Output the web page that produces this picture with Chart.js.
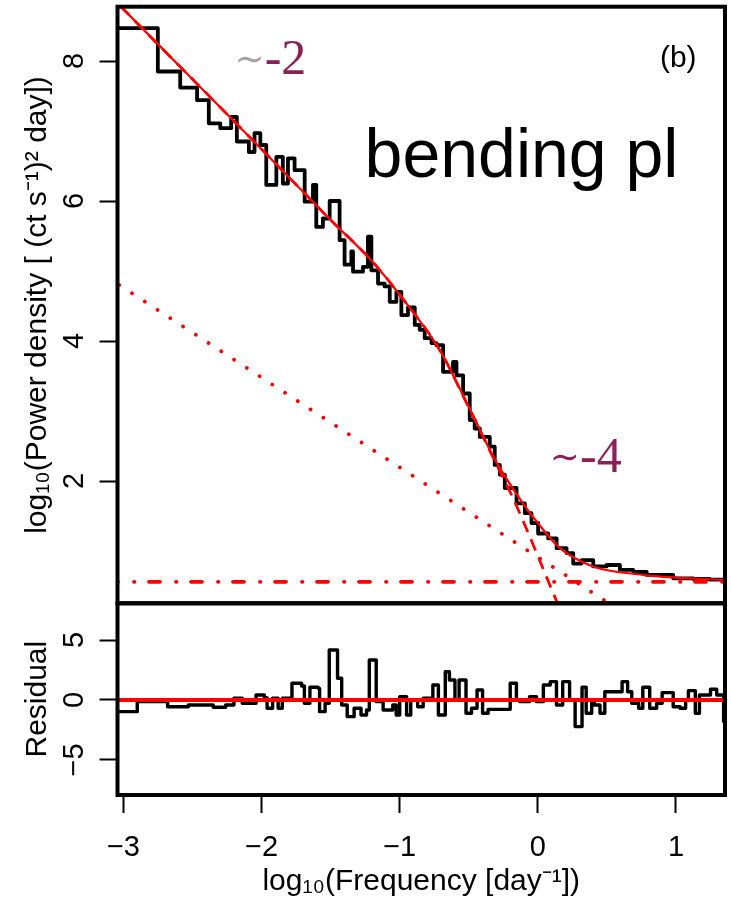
<!DOCTYPE html>
<html>
<head>
<meta charset="utf-8">
<script src="https://cdn.jsdelivr.net/npm/chart.js@4.4.1/dist/chart.umd.min.js"></script>
<style>
  html, body { margin: 0; padding: 0; background: #fff; }
  #wrap { position: relative; width: 731px; height: 900px; }
  #wrap canvas { position: absolute; left: 0; top: 0; }
</style>
</head>
<body>
<div id="wrap">
  <canvas id="spec" width="731" height="900"></canvas>
  <canvas id="resid" width="731" height="900"></canvas>
</div>
<script>
// binned power spectrum, step levels (left edge of each step, log10 power)
const specX = [-3.048, -2.751, -2.589, -2.467, -2.382, -2.299, -2.220, -2.179, -2.092, -2.051,
  -2.009, -1.966, -1.893, -1.846, -1.809, -1.761, -1.688, -1.628, -1.604, -1.556,
  -1.507, -1.435, -1.399, -1.350, -1.338, -1.266, -1.230, -1.205, -1.157, -1.109,
  -1.072, -1.024, -0.988, -0.940, -0.891, -0.855, -0.819, -0.770, -0.734, -0.686,
  -0.614, -0.589, -0.541, -0.493, -0.457, -0.420, -0.348, -0.312, -0.275, -0.239,
  -0.154, -0.094, -0.046, 0.002, 0.075, 0.136, 0.208, 0.256, 0.317, 0.401,
  0.498, 0.594, 0.691, 0.788, 0.980, 1.125, 1.246];
const specY = [8.47, 7.85, 7.62, 7.44, 7.11, 7.04, 7.20, 6.85, 6.70, 6.97,
  6.80, 6.23, 6.63, 6.25, 6.61, 6.44, 5.99, 6.23, 5.63, 5.75,
  6.00, 5.44, 5.09, 5.28, 4.99, 5.06, 5.49, 5.01, 4.82, 4.78,
  4.56, 4.70, 4.37, 4.48, 4.23, 4.16, 4.04, 3.97, 3.94, 3.56,
  3.70, 3.51, 3.25, 2.87, 2.75, 2.63, 2.49, 2.23, 2.09, 1.90,
  1.68, 1.54, 1.40, 1.25, 1.18, 1.04, 0.97, 0.82, 0.87, 0.78,
  0.80, 0.73, 0.70, 0.66, 0.61, 0.60, 0.59];

// total model (solid red)
const modelX = [-3.02, -2.5, -2.0, -1.5, -1.2, -1.0, -0.71, -0.5, -0.3, -0.1, 0.0, 0.16, 0.4, 0.76, 1.0, 1.36];
const modelY = [8.78, 7.74, 6.74, 5.73, 5.14, 4.66, 3.87, 3.06, 2.27, 1.66, 1.40, 1.04, 0.78, 0.66, 0.62, 0.586];

// bending power law component (dashed red)
const bendX = [-3.02, -2.5, -2.0, -1.5, -1.2, -1.0, -0.71, -0.5, -0.3, -0.19, -0.1, 0.0, 0.09, 0.16];
const bendY = [8.78, 7.74, 6.74, 5.73, 5.14, 4.66, 3.87, 3.05, 2.24, 1.80, 1.40, 0.93, 0.50, 0.17];

// dotted red component
const dotX = [-3.03, 0.52];
const dotY = [4.80, 0.245];

// constant (white noise) level, dot-dash red
const constX = [-3.043, 1.355];
const constY = [0.56, 0.56];

// residuals, step levels
const resX = [-3.043, -2.90, -2.68, -2.53, -2.35, -2.26, -2.20, -2.14, -2.04, -1.98,
  -1.96, -1.92, -1.88, -1.85, -1.78, -1.71, -1.69, -1.65, -1.59, -1.58,
  -1.54, -1.51, -1.45, -1.42, -1.38, -1.33, -1.28, -1.24, -1.22, -1.17,
  -1.12, -1.05, -1.025, -1.0, -0.95, -0.92, -0.87, -0.83, -0.76, -0.72,
  -0.67, -0.64, -0.60, -0.57, -0.52, -0.48, -0.44, -0.40, -0.36, -0.20,
  -0.155, -0.13, -0.06, -0.01, 0.04, 0.09, 0.135, 0.18, 0.23, 0.27,
  0.32, 0.35, 0.39, 0.41, 0.45, 0.485, 0.61, 0.65, 0.68, 0.73,
  0.76, 0.81, 0.86, 0.90, 0.98, 1.03, 1.07, 1.09, 1.14, 1.17,
  1.25, 1.295, 1.345];
const resY = [-0.97, -0.14, -0.56, -0.42, -0.61, -0.42, 0.14, -0.28, 0.42, 0.19,
  -0.69, 0.14, -0.69, 0.14, 1.39, 1.17, -0.28, 1.06, 0.97, -0.97,
  -0.28, 4.17, 1.81, -0.42, -1.39, -0.69, -1.25, -0.83, 3.33, -0.14,
  -0.83, -0.42, -1.25, 0.28, -1.25, 0, -0.56, 0.14, 1.25, -1.25,
  2.36, 1.67, 0, 1.67, -1.11, -0.69, 0.83, -1.11, -0.78, 1.39,
  0, -0.14, 0.28, -0.14, 1.25, 1.53, -0.42, 1.53, 0, -2.22,
  1.06, -1.11, 0, -0.42, -1.11, 0.69, 1.53, 0.69, -0.28, -0.69,
  1.06, -0.69, -0.28, 0.61, -0.56, -0.69, 0, 0.78, -1.11, 0.42,
  0.89, 0.42, -1.8];
const zeroX = [-3.043, 1.355];
const zeroY = [0, 0];

// axes
const X_MIN = -3.043, X_MAX = 1.355;
const xTicks = [-3, -2, -1, 0, 1];
const specTicks = [2, 4, 6, 8];
const resTicks = [-5, 0, 5];

const SANS = '"Liberation Sans", Arial, Helvetica, sans-serif';
const SERIF = '"Liberation Serif", "Times New Roman", serif';
const RED = '#ff0000';
const MAROON = '#8e1f55';

function minusLabel(v) {
  return v < 0 ? '\u2212' + Math.abs(v) : String(v);
}
function pts(xs, ys) {
  return xs.map((x, i) => ({ x: x, y: ys[i] }));
}
function stepPts(xs, ys, end) {
  let p = pts(xs, ys);
  p.push({ x: end, y: ys[ys.length - 1] });
  return p;
}

// box round the plot region, like R's box()
const framePlugin = {
  id: 'frame',
  afterDraw(chart) {
    const { ctx, chartArea: a } = chart;
    ctx.save();
    ctx.strokeStyle = '#000';
    ctx.lineWidth = 4;
    ctx.strokeRect(a.left, a.top, a.right - a.left, a.bottom - a.top);
    ctx.restore();
  }
};

// text written into the top panel; a part may carry its own font and a small lift
const TILDE_FONT = '36px "DejaVu Serif", serif';
const notes = [
  { x: -2.196, y: 7.82, font: '50px ' + SERIF,
    parts: [['\u223C', '#a3a3a3', TILDE_FONT, -3], ['-2', MAROON]] },
  { x: 0.087, y: 2.13, font: '50px ' + SERIF,
    parts: [['\u223C', MAROON, TILDE_FONT, -3], ['-4', MAROON]] },
  { x: -1.254, y: 6.35, font: '68px ' + SANS, parts: [['bending pl', '#000']] },
  { x: 0.884, y: 7.92, font: '30px ' + SANS, parts: [['(b)', '#000']] }
];
const notesPlugin = {
  id: 'notes',
  afterDraw(chart) {
    const ctx = chart.ctx;
    const xs = chart.scales.x, ys = chart.scales.y;
    ctx.save();
    ctx.textBaseline = 'alphabetic';
    ctx.textAlign = 'left';
    for (const n of notes) {
      let px = xs.getPixelForValue(n.x);
      const py = ys.getPixelForValue(n.y);
      for (const [txt, col, f, dy] of n.parts) {
        ctx.font = f || n.font;
        ctx.fillStyle = col;
        ctx.fillText(txt, px, py + (dy || 0));
        px += ctx.measureText(txt).width;
      }
    }
    ctx.restore();
  }
};

function yAxis(min, max, tickVals, title, tickPad) {
  return {
    type: 'linear',
    min: min,
    max: max,
    afterBuildTicks: (s) => { s.ticks = tickVals.map(v => ({ value: v })); },
    afterFit: (s) => { s.width = 117.5; s.paddingTop = 0; s.paddingBottom = 0; },
    grid: { drawOnChartArea: false, drawTicks: true, tickLength: 18, tickWidth: 2, tickColor: '#000' },
    border: { display: false },
    ticks: {
      minRotation: 90, maxRotation: 90, crossAlign: 'center', padding: tickPad,
      color: '#000', font: { family: SANS, size: 29 }, callback: minusLabel
    },
    title: {
      display: true, text: title, color: '#000',
      font: { family: SANS, size: 30 }, padding: { top: 20, bottom: 0 }
    }
  };
}

const common = {
  responsive: false,
  animation: false,
  devicePixelRatio: 1,
  plugins: { legend: { display: false }, tooltip: { enabled: false } },
  elements: { point: { radius: 0 } }
};

new Chart(document.getElementById('spec'), {
  type: 'line',
  data: {
    datasets: [
      { data: pts(modelX, modelY), borderColor: RED, borderWidth: 2.2, cubicInterpolationMode: 'monotone', clip: 0 },
      { data: pts(bendX, bendY), borderColor: RED, borderWidth: 2.8, borderDash: [12, 8], cubicInterpolationMode: 'monotone', clip: 0 },
      { data: pts(constX, constY), borderColor: RED, borderWidth: 3.8, borderCapStyle: 'round',
        borderDash: [0.5, 14.5, 11, 16], borderDashOffset: 25.5, clip: 0 },
      { data: pts(dotX, dotY), borderColor: RED, borderWidth: 3.8, borderCapStyle: 'round',
        borderDash: [0.01, 15.2], clip: 0 },
      { data: stepPts(specX, specY, X_MAX), stepped: 'before', borderColor: '#000', borderWidth: 3.8,
        borderJoinStyle: 'round', clip: 0 }
    ]
  },
  options: Object.assign({}, common, {
    layout: { padding: { left: 0, right: 6, top: 6.7, bottom: 296.7 } },
    scales: {
      x: { type: 'linear', min: X_MIN, max: X_MAX, display: false },
      y: yAxis(0.253, 8.776, specTicks, 'log\u2081\u2080(Power density [ (ct s\u207B\u00B9)\u00B2 day])', 16.5)
    }
  }),
  plugins: [framePlugin, notesPlugin]
});

new Chart(document.getElementById('resid'), {
  type: 'line',
  data: {
    datasets: [
      { data: pts(zeroX, zeroY), borderColor: RED, borderWidth: 4, clip: 0 },
      { data: stepPts(resX, resY, X_MAX), stepped: 'before', borderColor: '#000', borderWidth: 3.4,
        borderJoinStyle: 'round', clip: 0 }
    ]
  },
  options: Object.assign({}, common, {
    layout: { padding: { left: 0, right: 6, top: 603.3, bottom: 0 } },
    scales: {
      x: {
        type: 'linear', min: X_MIN, max: X_MAX, position: 'bottom',
        afterBuildTicks: (s) => { s.ticks = xTicks.map(v => ({ value: v })); },
        afterFit: (s) => { s.height = 105; },
        grid: { drawOnChartArea: false, drawTicks: true, tickLength: 18, tickWidth: 2, tickColor: '#000' },
        border: { display: false },
        ticks: { maxRotation: 0, padding: 18, color: '#000', font: { family: SANS, size: 29 }, callback: minusLabel },
        title: {
          display: true, text: 'log\u2081\u2080(Frequency [day\u207B\u00B9])', color: '#000',
          font: { family: SANS, size: 30 }, padding: { top: 0, bottom: 0 }
        }
      },
      y: yAxis(-7.92, 8.06, resTicks, 'Residual', 8)
    }
  }),
  plugins: [framePlugin]
});
</script>
</body>
</html>
